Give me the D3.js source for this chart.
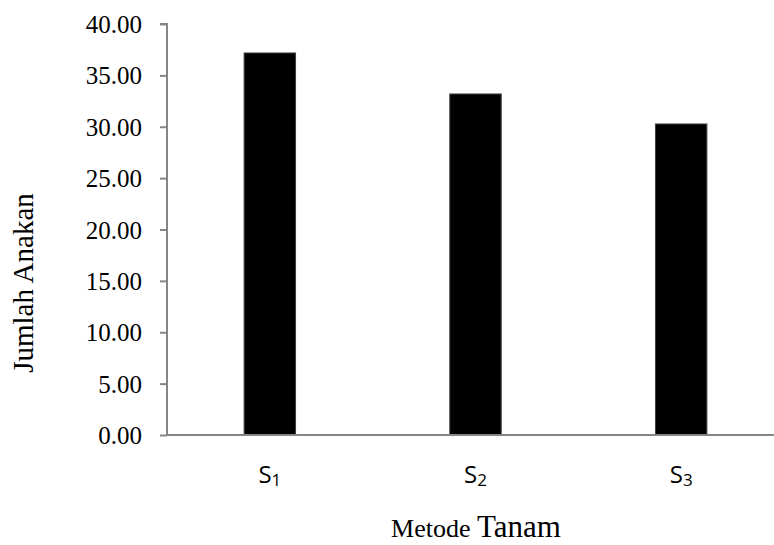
<!DOCTYPE html>
<html><head><meta charset="utf-8">
<script src="https://cdn.jsdelivr.net/npm/d3@7"></script>
<style>body{margin:0;background:#fff}svg{display:block}</style>
</head><body>
<script>
const categories = ["S1", "S2", "S3"];
const subscripts = ["1", "2", "3"];
const values = [37.18, 33.19, 30.27];
const yTicks = [0, 5, 10, 15, 20, 25, 30, 35, 40];

const W = 774, H = 545;
const svg = d3.select("body").append("svg").attr("width", W).attr("height", H);
const m = {left: 167, top: 24, right: -10, bottom: 110};
const x = d3.scaleBand().domain(categories).range([m.left, W - m.right]).paddingInner(0.75).paddingOuter(0.375);
const y = d3.scaleLinear().domain([0, 40]).range([H - m.bottom, m.top]);

const yAxis = svg.append("g").attr("transform", `translate(${m.left},0)`)
  .call(d3.axisLeft(y).tickValues(yTicks).tickSize(7).tickPadding(18).tickFormat(d => d3.format(".2f")(d)));
yAxis.selectAll("path,line").attr("stroke", "#868686").attr("stroke-width", 2);
yAxis.select("path").attr("d", `M-7,${y(40)}H0V${y(0)}`);
yAxis.selectAll("text").attr("font-family", "Liberation Serif").attr("font-size", 25).attr("fill", "#000").attr("dy", "0.34em");

svg.append("g").selectAll("rect").data(values).join("rect")
  .attr("x", (d, i) => x(categories[i])).attr("width", x.bandwidth())
  .attr("y", d => y(d)).attr("height", d => y(0) - y(d))
  .attr("fill", "#000").attr("stroke", "#404040").attr("stroke-width", 1);

svg.append("line").attr("x1", m.left).attr("x2", W).attr("y1", y(0)).attr("y2", y(0))
  .attr("stroke", "#868686").attr("stroke-width", 2);

const xl = svg.append("g").selectAll("text").data(categories).join("text")
  .attr("x", d => x(d) + x.bandwidth() / 2).attr("y", 483)
  .attr("text-anchor", "middle").attr("font-family", "Open Sans").attr("font-size", 24).attr("fill", "#000");
xl.append("tspan").text("S");
xl.append("tspan").attr("font-size", 17).attr("dy", 3).text((d, i) => subscripts[i]);

const t = svg.append("text").attr("x", 476).attr("y", 537).attr("text-anchor", "middle")
  .attr("font-family", "Liberation Serif").attr("fill", "#000");
t.append("tspan").attr("font-size", 26).text("Metode ");
t.append("tspan").attr("font-size", 31).text("Tanam");

svg.append("text").attr("transform", "translate(33,283) rotate(-90)").attr("text-anchor", "middle")
  .attr("font-family", "Liberation Serif").attr("font-size", 29).attr("fill", "#000").text("Jumlah Anakan");
</script>
</body></html>
